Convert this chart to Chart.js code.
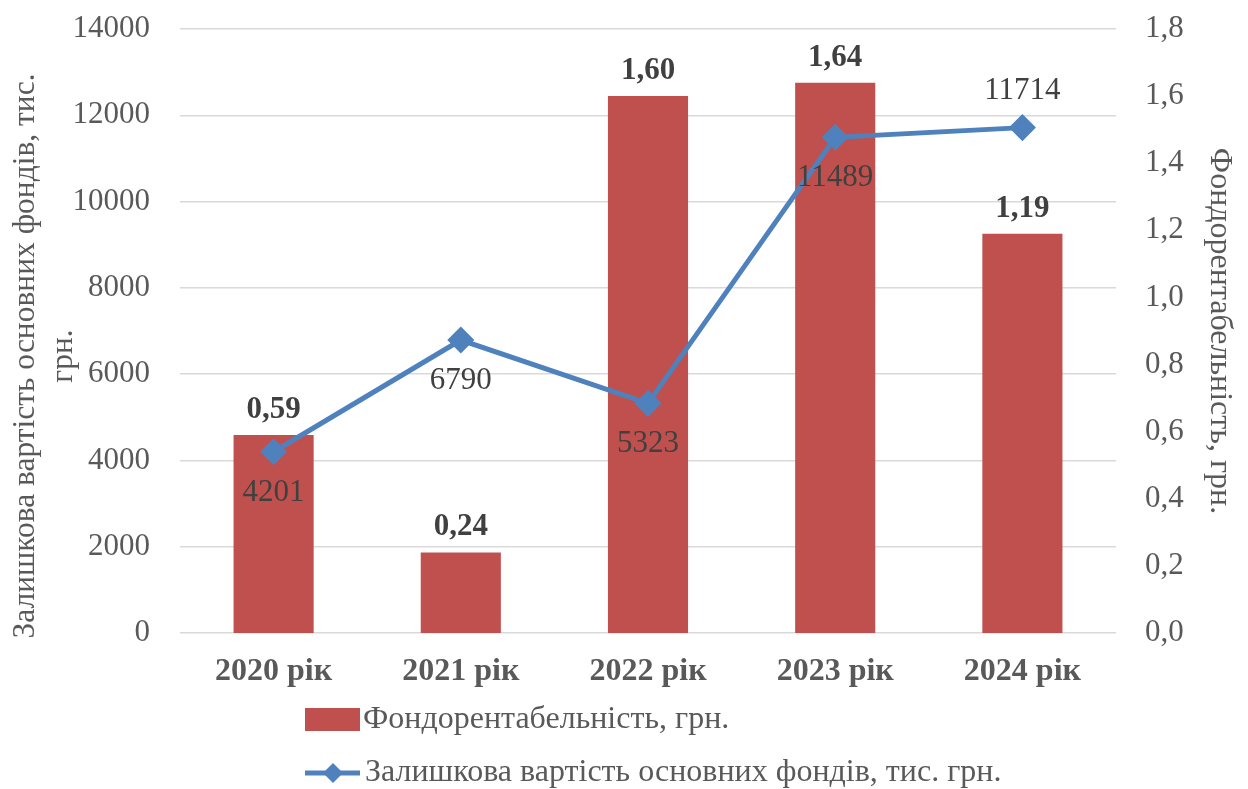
<!DOCTYPE html>
<html>
<head>
<meta charset="utf-8">
<script src="https://cdn.jsdelivr.net/npm/chart.js@4.4.0/dist/chart.umd.min.js"></script>
<style>
  html, body { margin: 0; padding: 0; background: #fff; }
  #wrap { width: 1248px; height: 789px; }
</style>
</head>
<body>
<div id="wrap"><canvas id="chart" width="1248" height="789"></canvas></div>
<script>
// data
const years = ['2020 рік', '2021 рік', '2022 рік', '2023 рік', '2024 рік'];
const fundReturn = [0.59, 0.24, 1.60, 1.64, 1.19];          // bars, right axis
const residualValue = [4201, 6790, 5323, 11489, 11714];    // line, left axis
const leftMax = 14000, leftStep = 2000;
const rightMax = 1.8, rightStep = 0.2;

const barName = 'Фондорентабельність, грн.';
const lineName = 'Залишкова вартість основних фондів, тис. грн.';
const leftTitle = ['Залишкова вартість основних фондів, тис.', 'грн.'];

const serif = "'Liberation Serif', 'Times New Roman', serif";
const barColor = '#c0504d';
const lineColor = '#4f81bd';
const tickColor = '#595959';
const labelColor = '#404040';

const comma = (v, d) => v.toFixed(d).replace('.', ',');

// value labels on bars and points
const valueLabels = {
  id: 'valueLabels',
  afterDatasetsDraw(chart) {
    const ctx = chart.ctx;
    ctx.save();
    ctx.textAlign = 'center';
    ctx.textBaseline = 'middle';
    ctx.fillStyle = labelColor;
    ctx.font = 'bold 31px ' + serif;
    chart.getDatasetMeta(1).data.forEach((bar, i) => {
      ctx.fillText(comma(fundReturn[i], 2), bar.x, bar.y - 25);
    });
    ctx.font = '31px ' + serif;
    chart.getDatasetMeta(0).data.forEach((pt, i) => {
      const dy = i === residualValue.length - 1 ? -37 : 41;
      ctx.fillText(String(residualValue[i]), pt.x, pt.y + dy);
    });
    ctx.restore();
  }
};

// left axis title (two centered lines) and bottom legend
const extras = {
  id: 'extras',
  afterDraw(chart) {
    const ctx = chart.ctx;
    ctx.save();
    ctx.fillStyle = tickColor;
    ctx.font = '31.5px ' + serif;
    ctx.textAlign = 'center';
    ctx.textBaseline = 'alphabetic';
    [34, 72].forEach((x, k) => {
      ctx.save();
      ctx.translate(x, 356);
      ctx.rotate(-Math.PI / 2);
      ctx.fillText(leftTitle[k], 0, 0);
      ctx.restore();
    });

    // legend
    ctx.font = '32px ' + serif;
    ctx.textAlign = 'left';
    ctx.textBaseline = 'middle';
    ctx.fillStyle = barColor;
    ctx.fillRect(305, 708, 55, 23);
    ctx.fillStyle = tickColor;
    ctx.fillText(barName, 363, 720);

    ctx.strokeStyle = lineColor;
    ctx.lineWidth = 5;
    ctx.beginPath();
    ctx.moveTo(305, 773);
    ctx.lineTo(360, 773);
    ctx.stroke();
    ctx.fillStyle = lineColor;
    ctx.beginPath();
    ctx.moveTo(333, 763);
    ctx.lineTo(343, 773);
    ctx.lineTo(333, 783);
    ctx.lineTo(323, 773);
    ctx.closePath();
    ctx.fill();
    ctx.fillStyle = tickColor;
    ctx.fillText(lineName, 365, 773);
    ctx.restore();
  }
};

new Chart(document.getElementById('chart'), {
  type: 'bar',
  data: {
    labels: years,
    datasets: [
      {
        type: 'line',
        label: lineName,
        data: residualValue,
        yAxisID: 'y',
        borderColor: lineColor,
        backgroundColor: lineColor,
        borderWidth: 5,
        tension: 0,
        pointStyle: 'rectRot',
        pointRadius: 10,
        pointBackgroundColor: lineColor,
        pointBorderColor: lineColor,
        order: 0
      },
      {
        type: 'bar',
        label: barName,
        data: fundReturn,
        yAxisID: 'y1',
        backgroundColor: barColor,
        categoryPercentage: 1,
        barPercentage: 0.428,
        order: 1
      }
    ]
  },
  options: {
    responsive: false,
    animation: false,
    devicePixelRatio: 1,
    layout: { padding: { top: 29, left: 0, right: 0, bottom: 0 } },
    plugins: {
      legend: { display: false },
      tooltip: { enabled: false }
    },
    scales: {
      x: {
        grid: { display: false, drawTicks: false },
        border: { display: false },
        ticks: {
          color: tickColor,
          font: { family: serif, size: 32, weight: 'bold' },
          padding: 20,
          maxRotation: 0
        },
        afterFit(s) { s.height = 156; }
      },
      y: {
        position: 'left',
        min: 0,
        max: leftMax,
        grid: { color: '#d9d9d9', lineWidth: 1.5, drawTicks: false },
        border: { display: false },
        ticks: {
          stepSize: leftStep,
          color: tickColor,
          font: { family: serif, size: 31 },
          padding: 30,
          callback: v => String(v)
        },
        afterFit(s) { s.width = 180; s.paddingTop = 0; s.paddingBottom = 0; }
      },
      y1: {
        position: 'right',
        min: 0,
        max: rightMax,
        grid: { display: false, drawTicks: false },
        border: { display: false },
        ticks: {
          stepSize: rightStep,
          color: tickColor,
          font: { family: serif, size: 31 },
          padding: 29,
          callback: v => comma(v, 1)
        },
        title: {
          display: true,
          text: barName,
          color: tickColor,
          font: { family: serif, size: 32 },
          padding: { top: 9, bottom: 0 }
        },
        afterFit(s) { s.width = 132; s.paddingTop = 0; s.paddingBottom = 0; }
      }
    }
  },
  plugins: [valueLabels, extras]
});
</script>
</body>
</html>
